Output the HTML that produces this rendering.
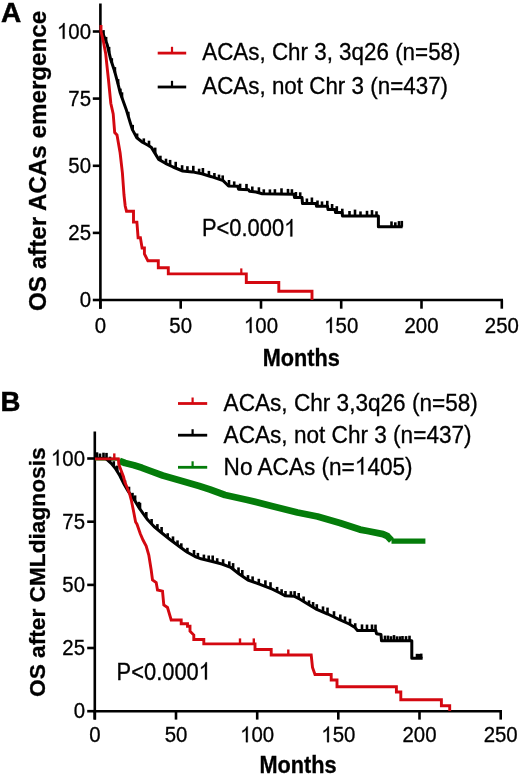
<!DOCTYPE html>
<html><head><meta charset="utf-8"><style>
html,body{margin:0;padding:0;background:#fff;}
svg{display:block;will-change:transform;}
text{font-family:"Liberation Sans",sans-serif;fill:#000;stroke:#000;stroke-width:0.3px;}
</style></head><body>
<svg width="520" height="775" viewBox="0 0 520 775">
<rect width="520" height="775" fill="#fff"/>
<text x="1.0" y="21.5" font-size="28" font-weight="bold" style="stroke-width:0.5px">A</text>
<text transform="translate(45.6,311) rotate(-90)" font-size="24.2" font-weight="bold">OS after ACAs emergence</text>
<line x1="100.4" y1="3.5" x2="100.4" y2="308.7" stroke="#000" stroke-width="2.6"/>
<line x1="99.1" y1="300.0" x2="503" y2="300.0" stroke="#000" stroke-width="2.6"/>
<line x1="92.8" y1="300.0" x2="100.4" y2="300.0" stroke="#000" stroke-width="2.6"/>
<g transform="translate(91.00,307.30) scale(1,1.08)"><text font-size="20.4" text-anchor="end">0</text></g>
<line x1="92.8" y1="232.9" x2="100.4" y2="232.9" stroke="#000" stroke-width="2.6"/>
<g transform="translate(91.00,240.18) scale(1,1.08)"><text font-size="20.4" text-anchor="end">25</text></g>
<line x1="92.8" y1="165.8" x2="100.4" y2="165.8" stroke="#000" stroke-width="2.6"/>
<g transform="translate(91.00,173.05) scale(1,1.08)"><text font-size="20.4" text-anchor="end">50</text></g>
<line x1="92.8" y1="98.6" x2="100.4" y2="98.6" stroke="#000" stroke-width="2.6"/>
<g transform="translate(91.00,105.92) scale(1,1.08)"><text font-size="20.4" text-anchor="end">75</text></g>
<line x1="92.8" y1="31.5" x2="100.4" y2="31.5" stroke="#000" stroke-width="2.6"/>
<g transform="translate(91.00,38.80) scale(1,1.08)"><text font-size="20.4" text-anchor="end"><tspan style="fill:none;stroke:none">1</tspan>00</text><path d="M-26.43,0.00 L-28.23,0.00 L-28.23,-11.43 L-29.35,-10.42 L-30.65,-9.56 L-31.81,-8.96 L-31.81,-10.67 L-30.05,-11.55 L-28.76,-12.65 L-27.89,-13.75 L-27.53,-14.60 L-26.43,-14.60 Z" fill="#000" stroke="#000" stroke-width="0.3"/></g>
<line x1="100.4" y1="300.0" x2="100.4" y2="308.7" stroke="#000" stroke-width="2.6"/>
<g transform="translate(100.40,333.00) scale(1,1.08)"><text font-size="20.4" text-anchor="middle">0</text></g>
<line x1="180.7" y1="300.0" x2="180.7" y2="308.7" stroke="#000" stroke-width="2.6"/>
<g transform="translate(180.68,333.00) scale(1,1.08)"><text font-size="20.4" text-anchor="middle">50</text></g>
<line x1="261.0" y1="300.0" x2="261.0" y2="308.7" stroke="#000" stroke-width="2.6"/>
<g transform="translate(260.96,333.00) scale(1,1.08)"><text font-size="20.4" text-anchor="middle"><tspan style="fill:none;stroke:none">1</tspan>00</text><path d="M-9.42,0.00 L-11.21,0.00 L-11.21,-11.43 L-12.34,-10.42 L-13.63,-9.56 L-14.80,-8.96 L-14.80,-10.67 L-13.03,-11.55 L-11.74,-12.65 L-10.87,-13.75 L-10.51,-14.60 L-9.42,-14.60 Z" fill="#000" stroke="#000" stroke-width="0.3"/></g>
<line x1="341.2" y1="300.0" x2="341.2" y2="308.7" stroke="#000" stroke-width="2.6"/>
<g transform="translate(341.24,333.00) scale(1,1.08)"><text font-size="20.4" text-anchor="middle"><tspan style="fill:none;stroke:none">1</tspan>50</text><path d="M-9.42,0.00 L-11.21,0.00 L-11.21,-11.43 L-12.34,-10.42 L-13.63,-9.56 L-14.80,-8.96 L-14.80,-10.67 L-13.03,-11.55 L-11.74,-12.65 L-10.87,-13.75 L-10.51,-14.60 L-9.42,-14.60 Z" fill="#000" stroke="#000" stroke-width="0.3"/></g>
<line x1="421.5" y1="300.0" x2="421.5" y2="308.7" stroke="#000" stroke-width="2.6"/>
<g transform="translate(421.52,333.00) scale(1,1.08)"><text font-size="20.4" text-anchor="middle">200</text></g>
<line x1="501.8" y1="300.0" x2="501.8" y2="308.7" stroke="#000" stroke-width="2.6"/>
<g transform="translate(501.80,333.00) scale(1,1.08)"><text font-size="20.4" text-anchor="middle">250</text></g>
<g transform="translate(301.20,365.80) scale(1,1.1)"><text font-size="21.7" text-anchor="middle" font-weight="bold">Months</text></g>
<line x1="157.7" y1="53.1" x2="186.2" y2="53.1" stroke="#d40810" stroke-width="2.8"/>
<line x1="172" y1="53.1" x2="172" y2="46.8" stroke="#d40810" stroke-width="2.2"/>
<line x1="157.7" y1="87" x2="186.2" y2="87" stroke="#000" stroke-width="2.8"/>
<line x1="172" y1="87" x2="172" y2="80.8" stroke="#000" stroke-width="2.2"/>
<g transform="translate(202.20,60.40) scale(1,1.075)"><text font-size="22.4">ACAs, Chr 3, 3q26 (n=58)</text></g>
<g transform="translate(202.20,94.20) scale(1,1.075)"><text font-size="22.4">ACAs, not Chr 3 (n=437)</text></g>
<g transform="translate(202.00,236.40) scale(1,1.104)"><text font-size="21.9">P&lt;0.000<tspan style="fill:none;stroke:none">1</tspan></text><path d="M90.30,0.00 L88.37,0.00 L88.37,-12.27 L87.16,-11.19 L85.77,-10.27 L84.52,-9.62 L84.52,-11.45 L86.42,-12.40 L87.81,-13.58 L88.74,-14.76 L89.12,-15.68 L90.30,-15.68 Z" fill="#000" stroke="#000" stroke-width="0.3"/></g>
<polyline points="100.4,31.5 103.3,34.6 107.1,44.2 110.5,58.7 114.3,70.2 117.7,82.7 120.1,92.4 126.2,109.4 130.4,123.3 132.4,129.6 136.8,137.8 142.5,142.2 148.0,145.3 151.5,147.6 155.8,154.6 158.7,159.4 165.4,163.3 173.1,167.0 182.7,171.0 192.3,171.9 201.9,173.8 211.5,176.7 223.1,180.6 226.0,183.5 228.5,186.0 237.8,186.3 238.5,189.2 248.6,189.7 249.5,191.3 256.0,192.0 262.3,193.8 294.0,194.3 294.5,197.6 302.0,197.6 302.5,203.5 316.0,203.5 316.5,206.3 327.5,206.3 328.0,209.5 335.0,209.5 335.5,212.4 342.0,212.4 342.5,216.0 378.4,216.0 378.4,226.8 402.6,226.8" fill="none" stroke="#000" stroke-width="3.0" stroke-linejoin="round"/>
<line x1="103.5" y1="35.1" x2="103.5" y2="30.1" stroke="#000" stroke-width="2.6"/>
<line x1="106.1" y1="41.6" x2="106.1" y2="36.9" stroke="#000" stroke-width="2.6"/>
<line x1="109.1" y1="52.6" x2="109.1" y2="46.9" stroke="#000" stroke-width="2.6"/>
<line x1="111.8" y1="62.7" x2="111.8" y2="58.2" stroke="#000" stroke-width="2.6"/>
<line x1="114.9" y1="72.5" x2="114.9" y2="67.1" stroke="#000" stroke-width="2.6"/>
<line x1="118.1" y1="84.2" x2="118.1" y2="79.1" stroke="#000" stroke-width="2.6"/>
<line x1="120.4" y1="93.2" x2="120.4" y2="88.6" stroke="#000" stroke-width="2.6"/>
<line x1="122.0" y1="97.7" x2="122.0" y2="92.3" stroke="#000" stroke-width="2.6"/>
<line x1="128.3" y1="116.3" x2="128.3" y2="111.8" stroke="#000" stroke-width="2.6"/>
<line x1="132.7" y1="130.2" x2="132.7" y2="124.9" stroke="#000" stroke-width="2.6"/>
<line x1="137.1" y1="138.0" x2="137.1" y2="133.5" stroke="#000" stroke-width="2.6"/>
<line x1="143.8" y1="143.0" x2="143.8" y2="138.4" stroke="#000" stroke-width="2.6"/>
<line x1="149.0" y1="145.9" x2="149.0" y2="140.7" stroke="#000" stroke-width="2.6"/>
<line x1="155.2" y1="153.7" x2="155.2" y2="147.6" stroke="#000" stroke-width="2.6"/>
<line x1="160.4" y1="160.4" x2="160.4" y2="155.7" stroke="#000" stroke-width="2.6"/>
<line x1="166.0" y1="163.6" x2="166.0" y2="158.7" stroke="#000" stroke-width="2.6"/>
<line x1="170.1" y1="165.5" x2="170.1" y2="159.9" stroke="#000" stroke-width="2.6"/>
<line x1="175.7" y1="168.1" x2="175.7" y2="161.8" stroke="#000" stroke-width="2.6"/>
<line x1="182.1" y1="170.7" x2="182.1" y2="165.2" stroke="#000" stroke-width="2.6"/>
<line x1="187.4" y1="171.4" x2="187.4" y2="166.2" stroke="#000" stroke-width="2.6"/>
<line x1="193.3" y1="172.1" x2="193.3" y2="165.8" stroke="#000" stroke-width="2.6"/>
<line x1="199.1" y1="173.2" x2="199.1" y2="168.7" stroke="#000" stroke-width="2.6"/>
<line x1="202.9" y1="174.1" x2="202.9" y2="168.0" stroke="#000" stroke-width="2.6"/>
<line x1="208.9" y1="175.9" x2="208.9" y2="170.9" stroke="#000" stroke-width="2.6"/>
<line x1="214.4" y1="177.7" x2="214.4" y2="173.0" stroke="#000" stroke-width="2.6"/>
<line x1="219.0" y1="179.2" x2="219.0" y2="174.6" stroke="#000" stroke-width="2.6"/>
<line x1="222.7" y1="180.5" x2="222.7" y2="175.4" stroke="#000" stroke-width="2.6"/>
<line x1="229.0" y1="186.0" x2="229.0" y2="180.0" stroke="#000" stroke-width="2.6"/>
<line x1="234.2" y1="186.2" x2="234.2" y2="181.4" stroke="#000" stroke-width="2.6"/>
<line x1="240.1" y1="189.3" x2="240.1" y2="183.7" stroke="#000" stroke-width="2.6"/>
<line x1="246.5" y1="189.6" x2="246.5" y2="183.9" stroke="#000" stroke-width="2.6"/>
<line x1="252.3" y1="191.6" x2="252.3" y2="186.5" stroke="#000" stroke-width="2.6"/>
<line x1="258.9" y1="192.8" x2="258.9" y2="187.3" stroke="#000" stroke-width="2.6"/>
<line x1="263.8" y1="193.8" x2="263.8" y2="189.3" stroke="#000" stroke-width="2.6"/>
<line x1="269.9" y1="193.9" x2="269.9" y2="189.4" stroke="#000" stroke-width="2.6"/>
<line x1="274.9" y1="194.0" x2="274.9" y2="189.2" stroke="#000" stroke-width="2.6"/>
<line x1="281.5" y1="194.1" x2="281.5" y2="188.3" stroke="#000" stroke-width="2.6"/>
<line x1="288.0" y1="194.2" x2="288.0" y2="188.9" stroke="#000" stroke-width="2.6"/>
<line x1="291.9" y1="194.3" x2="291.9" y2="189.2" stroke="#000" stroke-width="2.6"/>
<line x1="295.9" y1="197.6" x2="295.9" y2="192.0" stroke="#000" stroke-width="2.6"/>
<line x1="300.2" y1="197.6" x2="300.2" y2="192.3" stroke="#000" stroke-width="2.6"/>
<line x1="306.9" y1="203.5" x2="306.9" y2="198.5" stroke="#000" stroke-width="2.6"/>
<line x1="311.9" y1="203.5" x2="311.9" y2="197.5" stroke="#000" stroke-width="2.6"/>
<line x1="317.5" y1="206.3" x2="317.5" y2="200.5" stroke="#000" stroke-width="2.6"/>
<line x1="322.0" y1="206.3" x2="322.0" y2="201.4" stroke="#000" stroke-width="2.6"/>
<line x1="327.3" y1="206.3" x2="327.3" y2="200.8" stroke="#000" stroke-width="2.6"/>
<line x1="332.1" y1="209.5" x2="332.1" y2="204.0" stroke="#000" stroke-width="2.6"/>
<line x1="336.8" y1="212.4" x2="336.8" y2="206.2" stroke="#000" stroke-width="2.6"/>
<line x1="342.3" y1="214.6" x2="342.3" y2="208.7" stroke="#000" stroke-width="2.6"/>
<line x1="349.5" y1="216.0" x2="349.5" y2="211.0" stroke="#000" stroke-width="2.6"/>
<line x1="355.0" y1="216.0" x2="355.0" y2="209.6" stroke="#000" stroke-width="2.6"/>
<line x1="360.5" y1="216.0" x2="360.5" y2="211.4" stroke="#000" stroke-width="2.6"/>
<line x1="367.0" y1="216.0" x2="367.0" y2="210.8" stroke="#000" stroke-width="2.6"/>
<line x1="372.0" y1="216.0" x2="372.0" y2="210.1" stroke="#000" stroke-width="2.6"/>
<line x1="376.5" y1="216.0" x2="376.5" y2="211.3" stroke="#000" stroke-width="2.6"/>
<line x1="391.5" y1="226.8" x2="391.5" y2="221.4" stroke="#000" stroke-width="2.6"/>
<line x1="395.3" y1="226.8" x2="395.3" y2="222.3" stroke="#000" stroke-width="2.6"/>
<line x1="399.0" y1="226.8" x2="399.0" y2="221.1" stroke="#000" stroke-width="2.6"/>
<line x1="401.8" y1="226.8" x2="401.8" y2="220.9" stroke="#000" stroke-width="2.6"/>
<polyline points="101.0,25.0 101.0,31.5 103.5,42.0 105.7,53.8 107.2,68.0 108.5,80.0 110.8,103.2 113.2,114.0 114.7,132.6 117.0,135.0 120.1,152.8 122.4,172.9 124.0,195.0 125.2,206.0 126.5,211.2 133.5,211.2 133.5,222.1 136.9,222.1 138.1,237.7 140.4,237.7 142.1,248.0 144.4,248.0 144.4,253.8 147.9,260.8 158.3,260.8 158.3,267.7 168.3,267.7 168.3,273.9 246.3,273.9 246.3,282.5 278.8,282.5 278.8,291.3 312.0,291.3 312.0,300.0" fill="none" stroke="#d40810" stroke-width="2.9" stroke-linejoin="miter"/>
<line x1="241.3" y1="273.9" x2="241.3" y2="268.4" stroke="#d40810" stroke-width="2.2"/>
<text x="0.6" y="410.7" font-size="27.6" font-weight="bold" style="stroke-width:0.5px">B</text>
<text transform="translate(45,697) rotate(-90)" font-size="22.7" font-weight="bold">OS after CMLdiagnosis</text>
<line x1="94.8" y1="431.5" x2="94.8" y2="719.6" stroke="#000" stroke-width="2.6"/>
<line x1="93.5" y1="711.2" x2="502" y2="711.2" stroke="#000" stroke-width="2.6"/>
<line x1="87.2" y1="711.2" x2="94.8" y2="711.2" stroke="#000" stroke-width="2.6"/>
<g transform="translate(85.00,718.20) scale(1,1.08)"><text font-size="20.4" text-anchor="end">0</text></g>
<line x1="87.2" y1="648.0" x2="94.8" y2="648.0" stroke="#000" stroke-width="2.6"/>
<g transform="translate(85.00,655.03) scale(1,1.08)"><text font-size="20.4" text-anchor="end">25</text></g>
<line x1="87.2" y1="584.9" x2="94.8" y2="584.9" stroke="#000" stroke-width="2.6"/>
<g transform="translate(85.00,591.85) scale(1,1.08)"><text font-size="20.4" text-anchor="end">50</text></g>
<line x1="87.2" y1="521.7" x2="94.8" y2="521.7" stroke="#000" stroke-width="2.6"/>
<g transform="translate(85.00,528.67) scale(1,1.08)"><text font-size="20.4" text-anchor="end">75</text></g>
<line x1="87.2" y1="458.5" x2="94.8" y2="458.5" stroke="#000" stroke-width="2.6"/>
<g transform="translate(85.00,465.50) scale(1,1.08)"><text font-size="20.4" text-anchor="end"><tspan style="fill:none;stroke:none">1</tspan>00</text><path d="M-26.43,0.00 L-28.23,0.00 L-28.23,-11.43 L-29.35,-10.42 L-30.65,-9.56 L-31.81,-8.96 L-31.81,-10.67 L-30.05,-11.55 L-28.76,-12.65 L-27.89,-13.75 L-27.53,-14.60 L-26.43,-14.60 Z" fill="#000" stroke="#000" stroke-width="0.3"/></g>
<line x1="94.8" y1="711.2" x2="94.8" y2="719.6" stroke="#000" stroke-width="2.6"/>
<g transform="translate(94.80,742.20) scale(1,1.08)"><text font-size="20.4" text-anchor="middle">0</text></g>
<line x1="176.0" y1="711.2" x2="176.0" y2="719.6" stroke="#000" stroke-width="2.6"/>
<g transform="translate(175.98,742.20) scale(1,1.08)"><text font-size="20.4" text-anchor="middle">50</text></g>
<line x1="257.2" y1="711.2" x2="257.2" y2="719.6" stroke="#000" stroke-width="2.6"/>
<g transform="translate(257.16,742.20) scale(1,1.08)"><text font-size="20.4" text-anchor="middle"><tspan style="fill:none;stroke:none">1</tspan>00</text><path d="M-9.42,0.00 L-11.21,0.00 L-11.21,-11.43 L-12.34,-10.42 L-13.63,-9.56 L-14.80,-8.96 L-14.80,-10.67 L-13.03,-11.55 L-11.74,-12.65 L-10.87,-13.75 L-10.51,-14.60 L-9.42,-14.60 Z" fill="#000" stroke="#000" stroke-width="0.3"/></g>
<line x1="338.3" y1="711.2" x2="338.3" y2="719.6" stroke="#000" stroke-width="2.6"/>
<g transform="translate(338.34,742.20) scale(1,1.08)"><text font-size="20.4" text-anchor="middle"><tspan style="fill:none;stroke:none">1</tspan>50</text><path d="M-9.42,0.00 L-11.21,0.00 L-11.21,-11.43 L-12.34,-10.42 L-13.63,-9.56 L-14.80,-8.96 L-14.80,-10.67 L-13.03,-11.55 L-11.74,-12.65 L-10.87,-13.75 L-10.51,-14.60 L-9.42,-14.60 Z" fill="#000" stroke="#000" stroke-width="0.3"/></g>
<line x1="419.5" y1="711.2" x2="419.5" y2="719.6" stroke="#000" stroke-width="2.6"/>
<g transform="translate(419.52,742.20) scale(1,1.08)"><text font-size="20.4" text-anchor="middle">200</text></g>
<line x1="500.7" y1="711.2" x2="500.7" y2="719.6" stroke="#000" stroke-width="2.6"/>
<g transform="translate(500.70,742.20) scale(1,1.08)"><text font-size="20.4" text-anchor="middle">250</text></g>
<g transform="translate(298.00,772.50) scale(1,1.1)"><text font-size="21.7" text-anchor="middle" font-weight="bold">Months</text></g>
<line x1="178" y1="403.5" x2="207.2" y2="403.5" stroke="#d40810" stroke-width="2.8"/>
<line x1="192.6" y1="403.5" x2="192.6" y2="397.5" stroke="#d40810" stroke-width="2.2"/>
<line x1="178" y1="435.2" x2="207.2" y2="435.2" stroke="#000" stroke-width="2.8"/>
<line x1="192.6" y1="435.2" x2="192.6" y2="429.2" stroke="#000" stroke-width="2.2"/>
<line x1="178" y1="467.3" x2="207.2" y2="467.3" stroke="#047c0a" stroke-width="2.8"/>
<line x1="192.6" y1="467.3" x2="192.6" y2="461.3" stroke="#047c0a" stroke-width="2.2"/>
<g transform="translate(223.60,410.80) scale(1,1.075)"><text font-size="22.6">ACAs, Chr 3,3q26 (n=58)</text></g>
<g transform="translate(223.60,442.70) scale(1,1.075)"><text font-size="22.6">ACAs, not Chr 3 (n=437)</text></g>
<g transform="translate(223.60,474.50) scale(1,1.075)"><text font-size="22.6">No ACAs (n=<tspan style="fill:none;stroke:none">1</tspan>405)</text><path d="M139.63,0.00 L137.64,0.00 L137.64,-12.66 L136.40,-11.54 L134.96,-10.59 L133.67,-9.93 L133.67,-11.82 L135.62,-12.80 L137.06,-14.01 L138.02,-15.23 L138.42,-16.18 L139.63,-16.18 Z" fill="#000" stroke="#000" stroke-width="0.3"/></g>
<g transform="translate(116.60,679.60) scale(1,1.104)"><text font-size="21.9">P&lt;0.000<tspan style="fill:none;stroke:none">1</tspan></text><path d="M90.30,0.00 L88.37,0.00 L88.37,-12.27 L87.16,-11.19 L85.77,-10.27 L84.52,-9.62 L84.52,-11.45 L86.42,-12.40 L87.81,-13.58 L88.74,-14.76 L89.12,-15.68 L90.30,-15.68 Z" fill="#000" stroke="#000" stroke-width="0.3"/></g>
<polyline points="95,459 119,459.2" fill="none" stroke="#047c0a" stroke-width="3"/>
<polyline points="119.5,460.8 125.0,463.0 134.0,465.3 142.0,467.8 150.8,471.2 162.7,475.5 181.9,481.0 199.2,486.0 210.0,489.5 225.0,495.0 247.5,500.0 272.5,506.2 297.5,512.5 317.5,516.5 340.0,523.0 360.0,529.6 367.5,531.0 383.0,534.2 387.5,536.2 391.5,540.5" fill="none" stroke="#047c0a" stroke-width="6.8" stroke-linejoin="round"/>
<polyline points="391.5,541.2 425.4,541.2" fill="none" stroke="#047c0a" stroke-width="5.2"/>
<polyline points="95.0,458.3 106.0,458.6 111.2,463.3 115.1,468.0 119.9,475.8 124.0,484.0 128.0,491.0 135.0,501.0 139.5,508.5 142.5,512.7 147.0,519.0 154.0,526.5 160.0,531.5 170.0,539.5 180.0,547.0 187.3,552.3 195.0,556.5 201.1,558.8 213.3,561.8 221.9,564.0 230.6,567.3 239.2,574.0 247.9,580.0 260.0,584.3 272.3,589.2 280.0,593.0 285.0,595.8 294.0,596.2 300.0,599.2 306.9,603.5 315.6,608.8 327.7,614.0 339.6,619.6 349.2,624.0 355.0,627.5 357.5,630.6 375.8,630.6 376.5,633.7 381.0,634.5 381.5,640.8 411.8,640.8 411.8,658.3 422.6,658.3" fill="none" stroke="#000" stroke-width="3.0" stroke-linejoin="round"/>
<line x1="97.0" y1="458.5" x2="97.0" y2="452.3" stroke="#000" stroke-width="2.6"/>
<line x1="100.0" y1="458.5" x2="100.0" y2="453.5" stroke="#000" stroke-width="2.6"/>
<line x1="103.5" y1="458.5" x2="103.5" y2="452.7" stroke="#000" stroke-width="2.6"/>
<line x1="106.5" y1="458.5" x2="106.5" y2="452.9" stroke="#000" stroke-width="2.6"/>
<line x1="110.0" y1="462.2" x2="110.0" y2="456.7" stroke="#000" stroke-width="2.6"/>
<line x1="113.8" y1="466.5" x2="113.8" y2="461.2" stroke="#000" stroke-width="2.6"/>
<line x1="117.3" y1="471.6" x2="117.3" y2="465.6" stroke="#000" stroke-width="2.6"/>
<line x1="121.2" y1="478.4" x2="121.2" y2="472.2" stroke="#000" stroke-width="2.6"/>
<line x1="125.0" y1="485.7" x2="125.0" y2="480.4" stroke="#000" stroke-width="2.6"/>
<line x1="129.0" y1="492.4" x2="129.0" y2="486.7" stroke="#000" stroke-width="2.6"/>
<line x1="132.5" y1="497.4" x2="132.5" y2="492.8" stroke="#000" stroke-width="2.6"/>
<line x1="135.1" y1="501.2" x2="135.1" y2="495.4" stroke="#000" stroke-width="2.6"/>
<line x1="138.9" y1="507.5" x2="138.9" y2="501.8" stroke="#000" stroke-width="2.6"/>
<line x1="140.0" y1="509.2" x2="140.0" y2="502.8" stroke="#000" stroke-width="2.6"/>
<line x1="146.3" y1="518.0" x2="146.3" y2="512.0" stroke="#000" stroke-width="2.6"/>
<line x1="151.6" y1="524.0" x2="151.6" y2="519.0" stroke="#000" stroke-width="2.6"/>
<line x1="157.4" y1="529.3" x2="157.4" y2="524.1" stroke="#000" stroke-width="2.6"/>
<line x1="161.6" y1="532.8" x2="161.6" y2="527.0" stroke="#000" stroke-width="2.6"/>
<line x1="167.7" y1="537.7" x2="167.7" y2="533.2" stroke="#000" stroke-width="2.6"/>
<line x1="173.0" y1="541.8" x2="173.0" y2="536.4" stroke="#000" stroke-width="2.6"/>
<line x1="177.5" y1="545.1" x2="177.5" y2="540.4" stroke="#000" stroke-width="2.6"/>
<line x1="181.3" y1="547.9" x2="181.3" y2="543.3" stroke="#000" stroke-width="2.6"/>
<line x1="187.4" y1="552.4" x2="187.4" y2="547.8" stroke="#000" stroke-width="2.6"/>
<line x1="194.0" y1="555.9" x2="194.0" y2="550.0" stroke="#000" stroke-width="2.6"/>
<line x1="197.9" y1="557.6" x2="197.9" y2="552.9" stroke="#000" stroke-width="2.6"/>
<line x1="203.9" y1="559.5" x2="203.9" y2="554.6" stroke="#000" stroke-width="2.6"/>
<line x1="208.7" y1="560.7" x2="208.7" y2="555.5" stroke="#000" stroke-width="2.6"/>
<line x1="212.7" y1="561.7" x2="212.7" y2="555.5" stroke="#000" stroke-width="2.6"/>
<line x1="217.2" y1="562.8" x2="217.2" y2="558.2" stroke="#000" stroke-width="2.6"/>
<line x1="223.1" y1="564.5" x2="223.1" y2="559.2" stroke="#000" stroke-width="2.6"/>
<line x1="229.3" y1="566.8" x2="229.3" y2="561.3" stroke="#000" stroke-width="2.6"/>
<line x1="233.1" y1="569.2" x2="233.1" y2="563.1" stroke="#000" stroke-width="2.6"/>
<line x1="238.5" y1="573.5" x2="238.5" y2="567.4" stroke="#000" stroke-width="2.6"/>
<line x1="242.3" y1="576.1" x2="242.3" y2="570.0" stroke="#000" stroke-width="2.6"/>
<line x1="248.0" y1="580.0" x2="248.0" y2="575.1" stroke="#000" stroke-width="2.6"/>
<line x1="252.6" y1="581.7" x2="252.6" y2="576.4" stroke="#000" stroke-width="2.6"/>
<line x1="258.8" y1="583.9" x2="258.8" y2="578.8" stroke="#000" stroke-width="2.6"/>
<line x1="265.4" y1="586.4" x2="265.4" y2="580.3" stroke="#000" stroke-width="2.6"/>
<line x1="270.5" y1="588.5" x2="270.5" y2="582.2" stroke="#000" stroke-width="2.6"/>
<line x1="277.1" y1="591.6" x2="277.1" y2="586.9" stroke="#000" stroke-width="2.6"/>
<line x1="281.6" y1="593.9" x2="281.6" y2="589.2" stroke="#000" stroke-width="2.6"/>
<line x1="285.5" y1="595.8" x2="285.5" y2="591.0" stroke="#000" stroke-width="2.6"/>
<line x1="290.9" y1="596.1" x2="290.9" y2="591.2" stroke="#000" stroke-width="2.6"/>
<line x1="294.6" y1="596.5" x2="294.6" y2="591.1" stroke="#000" stroke-width="2.6"/>
<line x1="298.7" y1="598.6" x2="298.7" y2="593.0" stroke="#000" stroke-width="2.6"/>
<line x1="303.6" y1="601.4" x2="303.6" y2="596.5" stroke="#000" stroke-width="2.6"/>
<line x1="309.0" y1="604.8" x2="309.0" y2="600.4" stroke="#000" stroke-width="2.6"/>
<line x1="313.1" y1="607.3" x2="313.1" y2="602.0" stroke="#000" stroke-width="2.6"/>
<line x1="316.8" y1="609.3" x2="316.8" y2="604.2" stroke="#000" stroke-width="2.6"/>
<line x1="323.0" y1="612.0" x2="323.0" y2="606.4" stroke="#000" stroke-width="2.6"/>
<line x1="327.5" y1="613.9" x2="327.5" y2="607.6" stroke="#000" stroke-width="2.6"/>
<line x1="334.0" y1="617.0" x2="334.0" y2="611.2" stroke="#000" stroke-width="2.6"/>
<line x1="340.3" y1="619.9" x2="340.3" y2="614.5" stroke="#000" stroke-width="2.6"/>
<line x1="345.0" y1="622.1" x2="345.0" y2="616.5" stroke="#000" stroke-width="2.6"/>
<line x1="350.0" y1="624.5" x2="350.0" y2="618.7" stroke="#000" stroke-width="2.6"/>
<line x1="355.2" y1="627.7" x2="355.2" y2="623.2" stroke="#000" stroke-width="2.6"/>
<line x1="362.0" y1="630.6" x2="362.0" y2="624.4" stroke="#000" stroke-width="2.6"/>
<line x1="367.0" y1="630.6" x2="367.0" y2="624.6" stroke="#000" stroke-width="2.6"/>
<line x1="372.0" y1="630.6" x2="372.0" y2="624.5" stroke="#000" stroke-width="2.6"/>
<line x1="375.5" y1="630.6" x2="375.5" y2="624.6" stroke="#000" stroke-width="2.6"/>
<line x1="385.0" y1="640.8" x2="385.0" y2="635.6" stroke="#000" stroke-width="2.6"/>
<line x1="388.0" y1="640.8" x2="388.0" y2="635.6" stroke="#000" stroke-width="2.6"/>
<line x1="391.0" y1="640.8" x2="391.0" y2="636.2" stroke="#000" stroke-width="2.6"/>
<line x1="394.0" y1="640.8" x2="394.0" y2="635.1" stroke="#000" stroke-width="2.6"/>
<line x1="397.0" y1="640.8" x2="397.0" y2="636.3" stroke="#000" stroke-width="2.6"/>
<line x1="400.0" y1="640.8" x2="400.0" y2="636.3" stroke="#000" stroke-width="2.6"/>
<line x1="402.5" y1="640.8" x2="402.5" y2="636.0" stroke="#000" stroke-width="2.6"/>
<line x1="406.0" y1="640.8" x2="406.0" y2="636.1" stroke="#000" stroke-width="2.6"/>
<line x1="409.5" y1="640.8" x2="409.5" y2="635.7" stroke="#000" stroke-width="2.6"/>
<line x1="417.0" y1="658.3" x2="417.0" y2="653.8" stroke="#000" stroke-width="2.6"/>
<line x1="419.0" y1="658.3" x2="419.0" y2="653.9" stroke="#000" stroke-width="2.6"/>
<line x1="421.2" y1="658.3" x2="421.2" y2="653.6" stroke="#000" stroke-width="2.6"/>
<polyline points="95.0,458.9 118.4,458.9 118.8,464.2 121.3,471.0 123.5,476.7 125.0,482.5 126.7,486.5 129.7,494.2 131.5,501.0 133.8,512.5 135.6,522.0 137.0,524.2 140.2,533.5 143.0,540.0 146.2,546.0 148.8,555.0 151.2,570.0 152.5,580.0 156.2,582.5 157.5,590.0 162.5,591.2 163.8,605.0 167.5,607.5 171.2,620.0 181.2,620.0 181.2,623.8 187.5,623.8 187.5,626.2 190.0,626.2 190.0,631.2 193.8,635.0 193.8,639.5 203.8,639.5 203.8,643.9 255.0,643.9 255.0,649.5 271.2,649.5 271.2,655.0 311.2,655.0 312.5,667.5 315.0,674.5 331.2,674.5 331.2,680.0 337.0,680.0 337.0,686.8 396.4,686.8 396.4,692.0 400.8,692.0 400.8,699.8 441.4,699.8 441.4,705.8 449.7,705.8 449.7,711.0" fill="none" stroke="#d40810" stroke-width="2.9" stroke-linejoin="miter"/>
<line x1="114.3" y1="458.9" x2="114.3" y2="453.4" stroke="#d40810" stroke-width="2.4"/>
<line x1="240.0" y1="643.9" x2="240.0" y2="638.4" stroke="#d40810" stroke-width="2.4"/>
<line x1="253.8" y1="643.9" x2="253.8" y2="638.4" stroke="#d40810" stroke-width="2.4"/>
<line x1="288.3" y1="655.0" x2="288.3" y2="649.5" stroke="#d40810" stroke-width="2.4"/>
</svg>
</body></html>
